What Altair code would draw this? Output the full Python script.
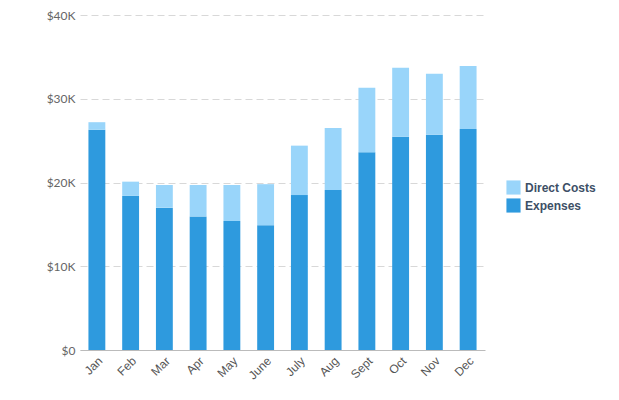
import altair as alt
import pandas as pd

months = ["Jan", "Feb", "Mar", "Apr", "May", "June", "July", "Aug", "Sept", "Oct", "Nov", "Dec"]
expenses = [26300, 18400, 17000, 15950, 15400, 14900, 18500, 19100, 23600, 25450, 25700, 26400]
direct_costs = [900, 1700, 2700, 3750, 4300, 4900, 5900, 7400, 7700, 8250, 7300, 7500]
series = ["Direct Costs", "Expenses"]
colors = ["#99D5FA", "#2E9ADE"]

rows = []
for m, e, d in zip(months, expenses, direct_costs):
    rows.append({"month": m, "series": "Expenses", "value": e, "ord": 0})
    rows.append({"month": m, "series": "Direct Costs", "value": d, "ord": 1})
df = pd.DataFrame(rows)

chart = alt.Chart(df).mark_bar().encode(
    x=alt.X("month:N", sort=months, title=None,
            scale=alt.Scale(paddingInner=0.5, paddingOuter=0.25),
            axis=alt.Axis(labelAngle=-45, labelAlign="right", labelBaseline="top",
                          ticks=False, domainColor="#bbbbbb", labelColor="#555555",
                          labelFont="Liberation Sans", labelFontSize=12, labelPadding=5)),
    y=alt.Y("value:Q", stack="zero", title=None,
            scale=alt.Scale(domain=[0, 40000]),
            axis=alt.Axis(values=[0, 10000, 20000, 30000, 40000],
                          labelExpr="datum.value == 0 ? '$0' : '$' + datum.value/1000 + 'K'",
                          domain=False, ticks=False, gridDash=[7, 4], gridColor="#d8d8d8",
                          labelColor="#666666", labelFont="Lato", labelFontSize=12, labelPadding=5)),
    color=alt.Color("series:N", scale=alt.Scale(domain=series, range=colors),
                    legend=alt.Legend(title=None, orient="none", legendX=426, legendY=165,
                                      symbolType="square", symbolSize=200, symbolStrokeWidth=0,
                                      labelFont="Liberation Sans", labelFontSize=12,
                                      labelFontWeight="bold", labelColor="#3d4f66",
                                      rowPadding=3)),
    order=alt.Order("ord:Q", sort="ascending"),
).properties(
    width=405, height=335,
    autosize=alt.AutoSizeParams(type="none"),
    padding={"left": 72, "top": 7, "right": 126, "bottom": 42},
).configure_view(stroke=None)

chart.save("out.html", embed_options={"renderer": "svg", "actions": False})
